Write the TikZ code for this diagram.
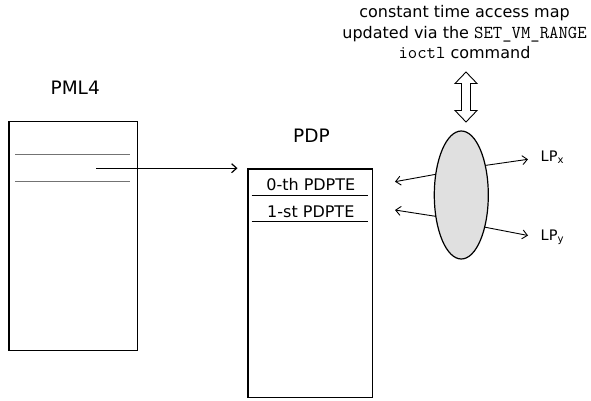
\documentclass[tikz,border=0pt]{standalone}
\usepackage{fontspec}
\setmainfont{DejaVu Sans}
\setmonofont{Latin Modern Mono}
\usetikzlibrary{shapes.geometric,arrows.meta}
\newcommand{\codetext}[1]{{\fontsize{18.2}{19}\ttfamily #1}}
\begin{document}
\begin{tikzpicture}[x=1pt,y=-1pt,
  tbl/.style={draw,line width=1.4pt,anchor=north west,inner sep=0pt},
  sepg/.style={draw=black!55,line width=1pt},
  sepk/.style={draw=black,line width=0.9pt},
  conn/.style={-{Straight Barb[length=5pt,width=9pt,line width=0.9pt]},line width=0.9pt},
  mainconn/.style={-{Straight Barb[length=5pt,width=9pt,line width=1.2pt]},line width=1.2pt},
  title/.style={font=\fontsize{18.5}{22}\selectfont,anchor=base,inner sep=0pt},
  body/.style={font=\fontsize{16}{19}\selectfont,anchor=base,inner sep=0pt},
  lp/.style={font=\fontsize{14.5}{16}\selectfont,anchor=base west,inner sep=0pt}]
\useasboundingbox (0,0) rectangle (591,401);
% PML4
\node[title] (pmltitle) at (75.2,95) {PML4};
\node[tbl,minimum width=128.4pt,minimum height=229pt] (pml) at (8.3,121) {};
\coordinate (p1a) at (15,154.3); \coordinate (p1b) at (130,154.3);
\coordinate (p2a) at (15,181.7); \coordinate (p2b) at (130,181.7);
\draw[sepg] (p1a) -- (p1b);
\draw[sepg] (p2a) -- (p2b);
\coordinate (pmlentry) at (96,168.2);
% PDP
\node[title] (pdptitle) at (311.4,142.7) {PDP};
\node[tbl,minimum width=124.7pt,minimum height=228.7pt] (pdp) at (247.3,168.3) {};
\node[body] (e0) at (310.8,190.5) {0-th PDPTE};
\node[body] (e1) at (310.8,217.5) {1-st PDPTE};
\coordinate (q1a) at (251.7,195); \coordinate (q1b) at (367.5,195);
\coordinate (q2a) at (251.7,221.7); \coordinate (q2b) at (367.5,221.7);
\draw[sepk] (q1a) -- (q1b);
\draw[sepk] (q2a) -- (q2b);
\coordinate (pdpin) at (237.5,168.2);
\draw[mainconn] (pmlentry) -- (pdpin);
% ellipse
\node[ellipse,draw,line width=1.2pt,fill=black!12,minimum width=54pt,minimum height=128pt,inner sep=0pt,outer sep=0pt] (map) at (461.3,195) {};
\coordinate (l1) at (395,181.7);
\coordinate (l2) at (395,210);
\draw[conn] (map.141) -- (l1);
\draw[conn] (map.220) -- (l2);
\node[lp] (lpx) at (540.5,161) {LP\textsubscript{x}};
\node[lp] (lpy) at (540.5,240) {LP\textsubscript{y}};
\coordinate (rx) at (528,159.3);
\coordinate (ry) at (528,235.5);
\draw[conn] (map.51) -- (rx);
\draw[conn] (map.306) -- (ry);
% top text
\node[body] (note1) at (464.5,18) {constant time access map};
\node[body] (note2) at (464.5,38.5) {updated via the \codetext{SET\_VM\_RANGE}};
\node[body] (note3) at (464.5,59) {\codetext{ioctl} command};
% double arrow
\draw[line width=0.9pt,line join=miter] (466,72) -- (477,83.5) -- (470.5,83.5) -- (470.5,110.5) -- (477,110.5) -- (466,122) -- (455,110.5) -- (461.5,110.5) -- (461.5,83.5) -- (455,83.5) -- cycle;
\end{tikzpicture}
\end{document}
